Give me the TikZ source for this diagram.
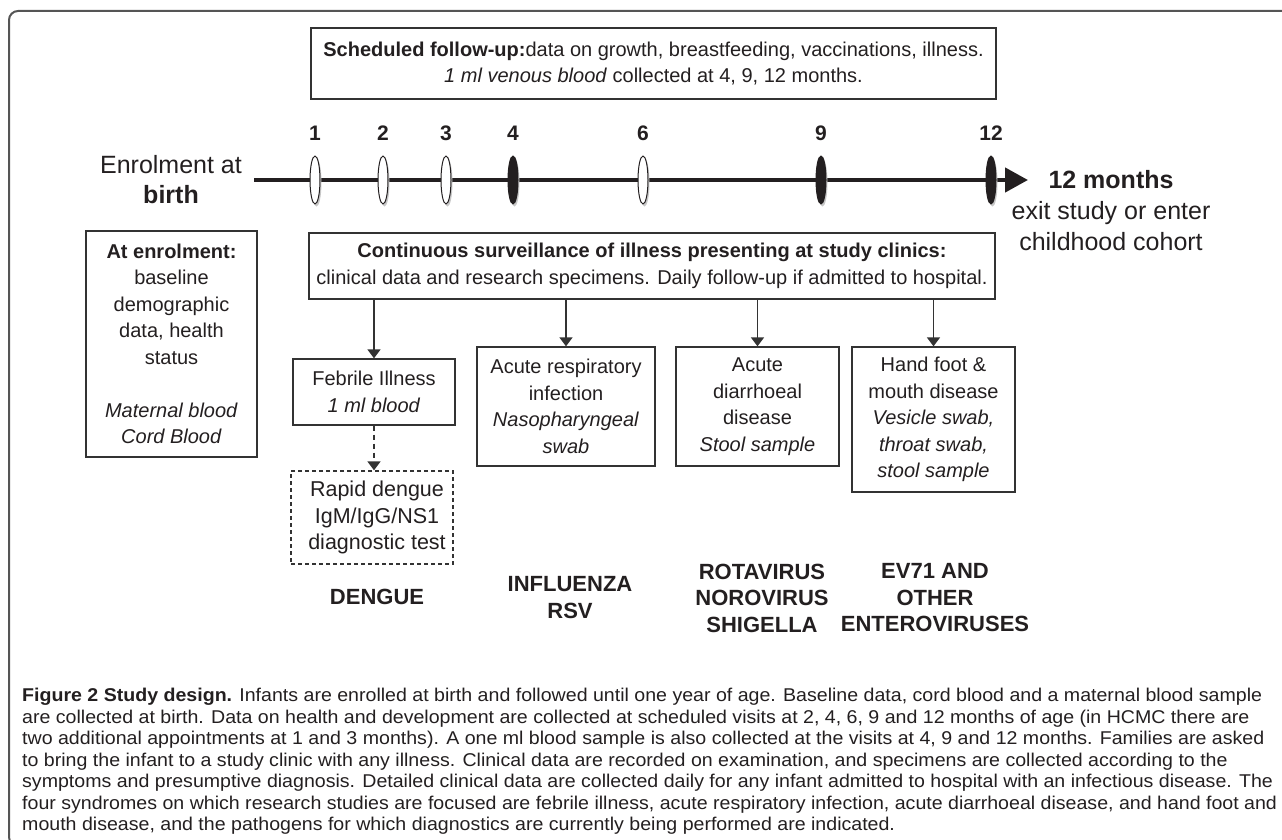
\documentclass[tikz,border=0pt]{standalone}
\usepackage{fontspec}
\setmainfont{Liberation Sans}
\usepackage{graphicx}
\usetikzlibrary{arrows.meta,shapes.geometric}
\definecolor{ink}{HTML}{231F20}
\definecolor{boxc}{HTML}{333333}
\definecolor{framec}{HTML}{555555}
\newlength\caplen
\newcommand\fsz[2]{\fontsize{#1pt}{#2pt}\selectfont}
\newcommand\capl[1]{\scalebox{\capsx}[1]{#1}}
\newcommand\rs{\hspace*{10pt}}
\begin{document}
\settowidth\caplen{\normalfont\fsz{18.5}{21.5}\textbf{Figure 2 Study design.} Infants are enrolled at birth and followed until one year of age. Baseline data, cord blood and a maternal blood sample}%
\pgfmathsetmacro\capsx{1240/\caplen}%
\begin{tikzpicture}[x=1pt,y=-1pt,
  txt/.style={text=ink, inner sep=0pt, align=center, font=\fsz{20}{26.5}},
  box/.style={txt, draw=boxc, line width=1.3pt},
  dbox/.style={box, dash pattern=on 4pt off 3pt},
  arr/.style={draw=boxc, line width=1.5pt, -{Triangle[length=9pt,width=13pt]}},
  darr/.style={arr, dash pattern=on 5pt off 4pt},
  visit/.style={ellipse, draw=ink, line width=1pt, fill=white, minimum width=10pt, minimum height=48pt, inner sep=0pt},
  bvisit/.style={visit, fill=ink},
  mon/.style={text=ink, inner sep=0pt, font=\bfseries\fsz{21}{25}},
  pathlab/.style={txt, font=\bfseries\fsz{22}{26.5}},
]
\useasboundingbox (0,0) rectangle (1282,840);
\draw[framec, line width=2pt, rounded corners=9pt] (1300,11) -- (9,11) -- (9,846) -- (1300,846);

% scheduled follow-up
\node[box, minimum width=685pt, minimum height=71pt] (sched) at (653.5,63.5)
  {\textbf{Scheduled follow-up:}data on growth, breastfeeding, vaccinations, illness.\\\textit{1 ml venous blood} collected at 4, 9, 12 months.};

% timeline
\coordinate (t0) at (254,180);
\coordinate (t1) at (1028,180);
\draw[ink, line width=4.5pt, -{Triangle[length=23pt,width=24pt]}] (t0) -- (t1);
\foreach \x/\n/\s in {315/1/visit, 383/2/visit, 446/3/visit, 513/4/bvisit, 643/6/visit, 821/9/bvisit, 991/12/bvisit}{
  \fill[black!22] (\x+1.5,182.5) ellipse [x radius=5, y radius=24];
  \node[\s] (m\n) at (\x,180) {};
  \node[mon] (l\n) at (\x,133) {\n};
}
\node[txt, font=\fsz{25}{30}] (enr) at (171,180) {Enrolment at\\\textbf{birth}};
\node[txt, font=\fsz{25}{31}] (exit) at (1111,211) {\textbf{12 months}\\exit study or enter\\childhood cohort};

% enrolment box
\node[box, minimum width=171pt, minimum height=226pt] (base) at (171.5,344)
  {\textbf{At enrolment:}\\baseline\\demographic\\data, health\\status\\[26.5pt]\textit{Maternal blood}\\\textit{Cord Blood}};

% surveillance
\node[box, minimum width=686pt, minimum height=66pt] (surv) at (652,266)
  {\textbf{Continuous surveillance of illness presenting at study clinics:}\\clinical data and research specimens. Daily follow-up if admitted to hospital.};

% syndromes
\node[box, minimum width=162pt, minimum height=66pt] (fi) at (374,392) {Febrile Illness\\\textit{1 ml blood}};
\node[dbox, minimum width=162pt, minimum height=93pt, font=\fsz{21.5}{26.5}] (rd) at (372,517.5) {\rs Rapid dengue\\\rs IgM/IgG/NS1\\\rs diagnostic test};
\node[box, minimum width=178pt, minimum height=119pt] (ari) at (566,406.5) {Acute respiratory\\infection\\\textit{Nasopharyngeal}\\\textit{swab}};
\node[box, minimum width=163pt, minimum height=119pt] (add) at (757.5,406.5) {Acute\\diarrhoeal\\disease\\\textit{Stool sample}};
\node[box, minimum width=163pt, minimum height=145pt] (hf) at (933.5,419.5) {Hand foot \&\\mouth disease\\\textit{Vesicle swab,}\\\textit{throat swab,}\\\textit{stool sample}};

\draw[arr] (surv.south -| fi.north) -- (fi.north);
\draw[arr] (surv.south -| ari.north) -- (ari.north);
\draw[arr] (surv.south -| add.north) -- (add.north);
\draw[arr] (surv.south -| hf.north) -- (hf.north);
\draw[darr] (fi.south) -- (fi.south |- rd.north);

% pathogens
\node[pathlab] (pd) at (377,597) {DENGUE};
\node[pathlab] (pi) at (570,597.5) {INFLUENZA\\RSV};
\node[pathlab] (pr) at (762,598) {ROTAVIRUS\\NOROVIRUS\\SHIGELLA};
\node[pathlab] (pe) at (935,598) {EV71 AND\\OTHER\\ENTEROVIRUSES};

% caption
\node[anchor=north west, inner sep=0pt, align=left, text=ink, font=\fsz{18.5}{21.5}] (cap) at (22,688)
  {\capl{\textbf{Figure 2 Study design.} Infants are enrolled at birth and followed until one year of age. Baseline data, cord blood and a maternal blood sample}\\
   \capl{are collected at birth. Data on health and development are collected at scheduled visits at 2, 4, 6, 9 and 12 months of age (in HCMC there are}\\
   \capl{two additional appointments at 1 and 3 months). A one ml blood sample is also collected at the visits at 4, 9 and 12 months. Families are asked}\\
   \capl{to bring the infant to a study clinic with any illness. Clinical data are recorded on examination, and specimens are collected according to the}\\
   \capl{symptoms and presumptive diagnosis. Detailed clinical data are collected daily for any infant admitted to hospital with an infectious disease. The}\\
   \capl{four syndromes on which research studies are focused are febrile illness, acute respiratory infection, acute diarrhoeal disease, and hand foot and}\\
   \capl{mouth disease, and the pathogens for which diagnostics are currently being performed are indicated.}};
\end{tikzpicture}
\end{document}
